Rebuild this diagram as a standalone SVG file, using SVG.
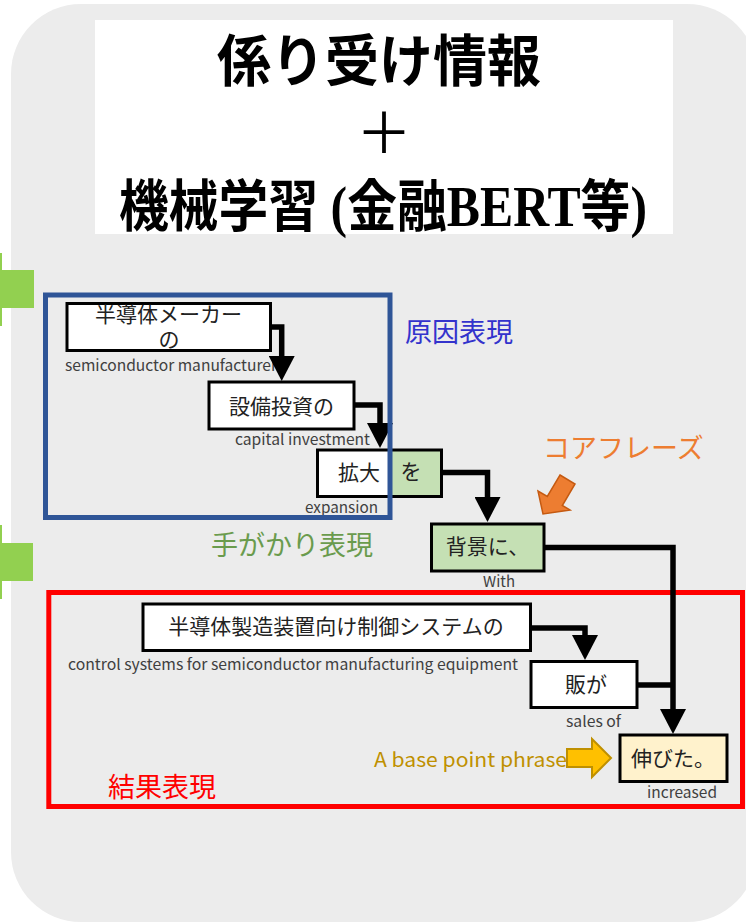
<svg xmlns="http://www.w3.org/2000/svg" width="746" height="923" viewBox="0 0 746 923">
<defs>
<marker id="ah" viewBox="0 0 25 26" refX="0" refY="13" markerWidth="25" markerHeight="26" markerUnits="userSpaceOnUse" orient="auto"><path d="M0,0 L25,13 L0,26 Z" fill="#000"/></marker>
<style>
.node rect{stroke:#000;stroke-width:3}
.nt{font-family:"Noto Sans CJK JP",sans-serif;font-size:21px;fill:#222;text-anchor:middle}
.lb{font-family:"Noto Sans CJK JP",sans-serif;font-size:15px;fill:#404040}
.conn path{fill:none;stroke:#000;stroke-width:5.5;stroke-linejoin:miter}
.conn .a{marker-end:url(#ah)}
.title{font-family:"Liberation Serif","Noto Sans CJK JP",serif;font-weight:700;font-size:56px;fill:#000}
.big{font-family:"Noto Sans CJK JP",sans-serif;font-size:27px}
.bar{fill:#92d050}
</style>
</defs>
<rect x="11" y="4" width="746" height="918" rx="70" ry="70" fill="#ececec"/>
<g id="title">
<rect x="95" y="20" width="578" height="214" fill="#fff"/>
<text class="title" x="217" y="81" textLength="324" lengthAdjust="spacingAndGlyphs">係り受け情報</text>
<text class="title" x="384" y="153" text-anchor="middle" style="font-weight:400">＋</text>
<text class="title" x="119" y="226" textLength="528" lengthAdjust="spacingAndGlyphs">機械学習 (金融BERT等)</text>
</g>
<g id="bars">
<rect class="bar" x="0" y="270" width="34" height="38"/>
<rect class="bar" x="0" y="253" width="2" height="73"/>
<rect class="bar" x="0" y="543" width="33" height="38"/>
<rect class="bar" x="0" y="525" width="2" height="74"/>
</g>
<g id="result-frame">
<rect x="48.8" y="592.5" width="693.7" height="214" fill="none" stroke="#ff0000" stroke-width="5"/>
</g>
<g id="n1" class="node">
<rect x="67" y="303.5" width="203.5" height="47" fill="#fff"/>
<text class="nt"><tspan x="168.5" y="322">半導体メーカー</tspan><tspan x="169" y="347">の</tspan></text>
</g>
<g id="n2" class="node">
<rect x="209" y="382" width="145" height="47" fill="#fff"/>
<text class="nt" x="281.5" y="414">設備投資の</text>
</g>
<g id="n3" class="node">
<rect x="317.5" y="450" width="72" height="46.5" fill="#fff"/>
<text class="nt" x="359" y="479.5">拡大</text>
</g>
<g id="n3b" class="node">
<rect x="389.5" y="450" width="52" height="46.5" fill="#c5e0b4"/>
<text class="nt" x="411" y="479">を</text>
</g>
<g id="n4" class="node">
<rect x="431.5" y="524" width="112.5" height="47" fill="#c5e0b4"/>
<text class="nt" x="487.5" y="554">背景に、</text>
</g>
<g id="n5" class="node">
<rect x="143" y="604" width="387.5" height="46.5" fill="#fff"/>
<text class="nt" x="336" y="633.5">半導体製造装置向け制御システムの</text>
</g>
<g id="n6" class="node">
<rect x="531" y="661.5" width="106" height="46" fill="#fff"/>
<text class="nt" x="586" y="692">販が</text>
</g>
<g id="n7" class="node">
<rect x="620" y="735" width="107" height="46.5" fill="#fff2cc"/>
<text class="nt" x="673" y="766">伸びた。</text>
</g>
<g id="labels">
<text class="lb" x="65" y="371" textLength="212" lengthAdjust="spacingAndGlyphs">semiconductor manufacturer</text>
<text class="lb" x="235" y="445" textLength="135" lengthAdjust="spacingAndGlyphs">capital investment</text>
<text class="lb" x="305" y="513" textLength="73" lengthAdjust="spacingAndGlyphs">expansion</text>
<text class="lb" x="483" y="586.5" textLength="32" lengthAdjust="spacingAndGlyphs">With</text>
<text class="lb" x="68" y="670" textLength="450" lengthAdjust="spacingAndGlyphs">control systems for semiconductor manufacturing equipment</text>
<text class="lb" x="566" y="727" textLength="55" lengthAdjust="spacingAndGlyphs">sales of</text>
<text class="lb" x="647" y="798" textLength="70" lengthAdjust="spacingAndGlyphs">increased</text>
</g>
<g id="connectors" class="conn">
<path class="a" d="M269,327 H281.7 V356"/>
<path class="a" d="M353,405 H380 V423"/>
<path class="a" d="M440,472.5 H487.5 V497"/>
<path class="a" d="M543,547.5 H673 V709"/>
<path class="a" d="M529,628 H585 V635"/>
<path d="M636,685 H673"/>
</g>
<g id="cause-frame">
<rect x="45.5" y="295" width="344.5" height="222.5" fill="none" stroke="#2f5597" stroke-width="5"/>
</g>
<g id="annotations">
<text class="big" x="405" y="341.5" fill="#3333cc">原因表現</text>
<text class="big" x="211" y="554.5" fill="#6a9b4d">手がかり表現</text>
<text class="big" x="543" y="458" fill="#ed7d31">コアフレーズ</text>
<text class="big" x="108" y="796.5" fill="#ff0000">結果表現</text>
<polygon points="560,475 575,484 562.3,505.5 570,510 543,514 538,491 547.3,496.5" fill="#ed7d31" stroke="#c55a11" stroke-width="1.5" stroke-linejoin="miter"/>
<text x="374" y="767" font-family="Noto Sans CJK JP, sans-serif" font-size="20" fill="#bf9000" textLength="193" lengthAdjust="spacingAndGlyphs">A base point phrase</text>
<polygon points="567,749 592,749 592,739 611,758 592,777 592,767 567,767" fill="#ffc000" stroke="#bf9000" stroke-width="2"/>
</g>
</svg>
